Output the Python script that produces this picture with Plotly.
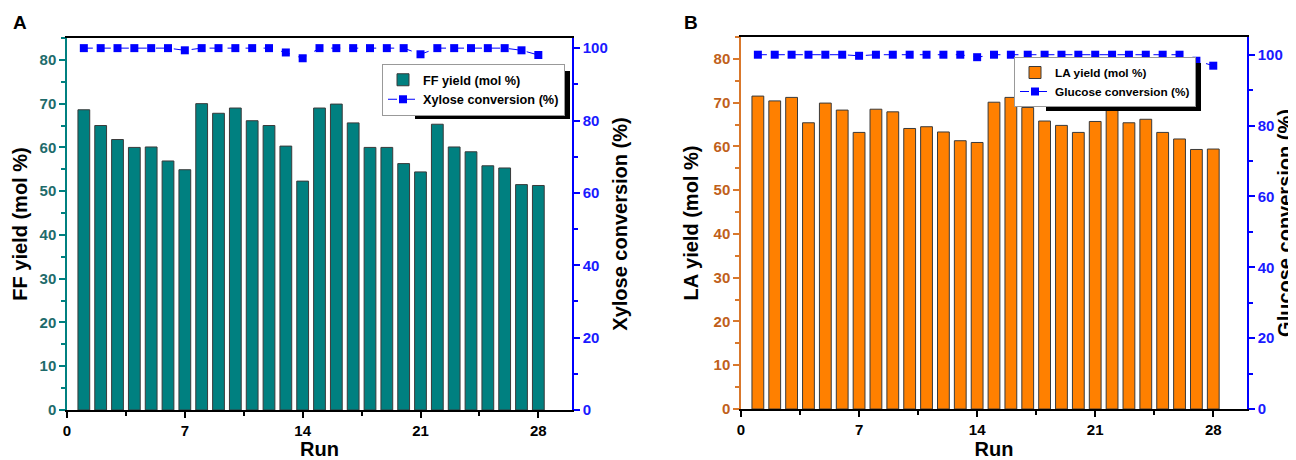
import plotly.graph_objects as go

runs = list(range(1, 29))
ff_yield = [68.6, 65.0, 61.8, 60.0, 60.1, 56.9, 54.9, 70.0, 67.8, 69.0, 66.1, 65.0, 60.3, 52.3,
            69.0, 69.9, 65.6, 60.0, 60.0, 56.3, 54.4, 65.3, 60.1, 59.0, 55.8, 55.3, 51.5, 51.3]
xylose_conv = [100, 100, 100, 100, 100, 100, 99.4, 100, 100, 100, 100, 100, 98.8, 97.2,
               100, 100, 100, 100, 100, 100, 98.3, 100, 100, 100, 100, 100, 99.4, 98.1]
la_yield = [71.5, 70.4, 71.2, 65.4, 69.9, 68.3, 63.2, 68.5, 67.9, 64.1, 64.5, 63.3, 61.3, 60.9,
            70.1, 71.2, 68.9, 65.8, 64.8, 63.2, 65.7, 68.7, 65.4, 66.2, 63.2, 61.7, 59.3, 59.4]
glucose_conv = [100, 100, 100, 100, 100, 100, 99.7, 100, 100, 100, 100, 100, 100, 99.3,
                100, 100, 100, 100, 100, 100, 100, 100, 100, 100, 100, 100, 98.3, 96.9]
x_ticks = [0, 7, 14, 21, 28]

FONT = "Arial, Liberation Sans, sans-serif"
TEAL = "#008080"
TEAL_TXT = "#1E6B6B"
ORANGE = "#FF8000"
ORANGE_TXT = "#C0601A"
ORANGE_LINE = "#D9782C"
BLUE = "#0000FF"
BLUE_TXT = "#1A1AFF"

OFF = 8            # page body margin
W, H = 1288, 452   # figure size (page 8..1296, 8..460)


def px_x(v):
    return (v - OFF) / W


def px_y(v):
    return 1 - (v - OFF) / H


fig = go.Figure()

# Panel A
fig.add_trace(go.Bar(x=runs, y=ff_yield, name="FF yield (mol %)", width=0.7,
                     marker=dict(color=TEAL, line=dict(color="#3a3a3a", width=1)),
                     xaxis="x", yaxis="y", legend="legend"))
fig.add_trace(go.Scatter(x=runs, y=xylose_conv, name="Xylose conversion (%)", mode="lines+markers",
                         line=dict(color=BLUE, width=1, dash="dash"),
                         marker=dict(symbol="square", size=8, color=BLUE),
                         xaxis="x", yaxis="y2", legend="legend"))
# Panel B
fig.add_trace(go.Bar(x=runs, y=la_yield, name="LA yield (mol %)", width=0.7,
                     marker=dict(color=ORANGE, line=dict(color="#3a3a3a", width=1)),
                     xaxis="x2", yaxis="y3", legend="legend2"))
fig.add_trace(go.Scatter(x=runs, y=glucose_conv, name="Glucose conversion (%)", mode="lines+markers",
                         line=dict(color=BLUE, width=1, dash="dash"),
                         marker=dict(symbol="square", size=8, color=BLUE),
                         xaxis="x2", yaxis="y4", legend="legend2"))

xA = [px_x(67), px_x(572)]
yA = [px_y(410), px_y(38)]
xB = [px_x(741), px_x(1247)]
yB = [px_y(409), px_y(37)]

tickfont_black = dict(family=FONT, size=15, color="black", weight="bold")
title_font = dict(family=FONT, size=20, color="black", weight="bold")


def xaxis(domain, anchor):
    return dict(domain=domain, anchor=anchor, range=[0, 30], tickvals=x_ticks,
                ticks="outside", ticklen=6, tickwidth=1.5, tickcolor="black",
                minor=dict(dtick=3.5, tick0=0, ticks="outside", ticklen=4, tickcolor="black"),
                showline=True, linecolor="black", linewidth=1.5, mirror=True,
                showgrid=False, zeroline=False, tickfont=tickfont_black,
                title=dict(text="Run", font=title_font, standoff=0), automargin=False)


def yleft(domain, anchor, color, txtcolor, title, standoff):
    return dict(domain=domain, anchor=anchor, range=[0, 85], dtick=10,
                ticks="outside", ticklen=6, tickwidth=1.5, tickcolor=color,
                minor=dict(dtick=5, ticks="outside", ticklen=4, tickcolor=color),
                showline=True, linecolor=color, linewidth=1.5,
                showgrid=False, zeroline=False,
                tickfont=dict(family=FONT, size=15, color=txtcolor, weight="bold"),
                title=dict(text=title, font=title_font, standoff=standoff),
                automargin=False)


def yright(domain, anchor, overlay, rmax, title, standoff):
    return dict(domain=domain, anchor=anchor, overlaying=overlay, side="right",
                range=[0, rmax], dtick=20,
                ticks="outside", ticklen=6, tickwidth=1.5, tickcolor=BLUE,
                minor=dict(dtick=10, ticks="outside", ticklen=4, tickcolor=BLUE),
                showline=True, linecolor=BLUE, linewidth=1.5,
                showgrid=False, zeroline=False,
                tickfont=dict(family=FONT, size=15, color=BLUE_TXT, weight="bold"),
                title=dict(text=title, font=title_font, standoff=standoff),
                automargin=False)


legend_font_A = dict(family=FONT, size=12.7, color="black", weight="bold")
legend_font_B = dict(family=FONT, size=11.8, color="black", weight="bold")
LEG_H = 48  # approx rendered legend height in px

# legend A: right edge 565, centred at y=90; legend B: right edge 1196, centred at y=82
legA_right, legA_cy = 565, 90
legB_right, legB_cy = 1196, 82

fig.update_layout(
    width=W, height=H,
    margin=dict(l=0, r=0, t=0, b=0),
    paper_bgcolor="white", plot_bgcolor="white",
    xaxis=xaxis(xA, "y"),
    yaxis=yleft(yA, "x", TEAL, TEAL_TXT, "FF yield (mol %)", 7),
    yaxis2=yright(yA, "x", "y", 102.8, "Xylose conversion (%)", 6),
    xaxis2=xaxis(xB, "y3"),
    yaxis3=yleft(yB, "x2", ORANGE_LINE, ORANGE_TXT, "LA yield (mol %)", 10),
    yaxis4=yright(yB, "x2", "y3", 105, "Glucose conversion (%)", 3),
    legend=dict(x=px_x(legA_right), y=px_y(legA_cy), xanchor="right", yanchor="middle",
                bgcolor="white", bordercolor="#999999", borderwidth=1,
                font=legend_font_A, tracegroupgap=0, itemsizing="trace"),
    legend2=dict(x=px_x(legB_right), y=px_y(legB_cy), xanchor="right", yanchor="middle",
                 bgcolor="white", bordercolor="#999999", borderwidth=1,
                 font=legend_font_B, tracegroupgap=0, itemsizing="trace"),
    showlegend=True,
    shapes=[
        dict(type="rect", xref="paper", yref="paper", layer="above",
             x0=px_x(legA_right - 150), x1=px_x(legA_right + 5),
             y0=px_y(legA_cy + LEG_H / 2 + 5), y1=px_y(legA_cy - LEG_H / 2 + 5),
             fillcolor="black", line=dict(width=0)),
        dict(type="rect", xref="paper", yref="paper", layer="above",
             x0=px_x(legB_right - 150), x1=px_x(legB_right + 5),
             y0=px_y(legB_cy + LEG_H / 2 + 5), y1=px_y(legB_cy - LEG_H / 2 + 5),
             fillcolor="black", line=dict(width=0)),
    ],
    annotations=[
        dict(text="<b>A</b>", x=px_x(11), y=px_y(22), xref="paper", yref="paper",
             xanchor="left", yanchor="middle", showarrow=False,
             font=dict(family=FONT, size=19, color="black")),
        dict(text="<b>B</b>", x=px_x(682), y=px_y(22), xref="paper", yref="paper",
             xanchor="left", yanchor="middle", showarrow=False,
             font=dict(family=FONT, size=19, color="black")),
    ],
)

fig.write_html("out.html")
